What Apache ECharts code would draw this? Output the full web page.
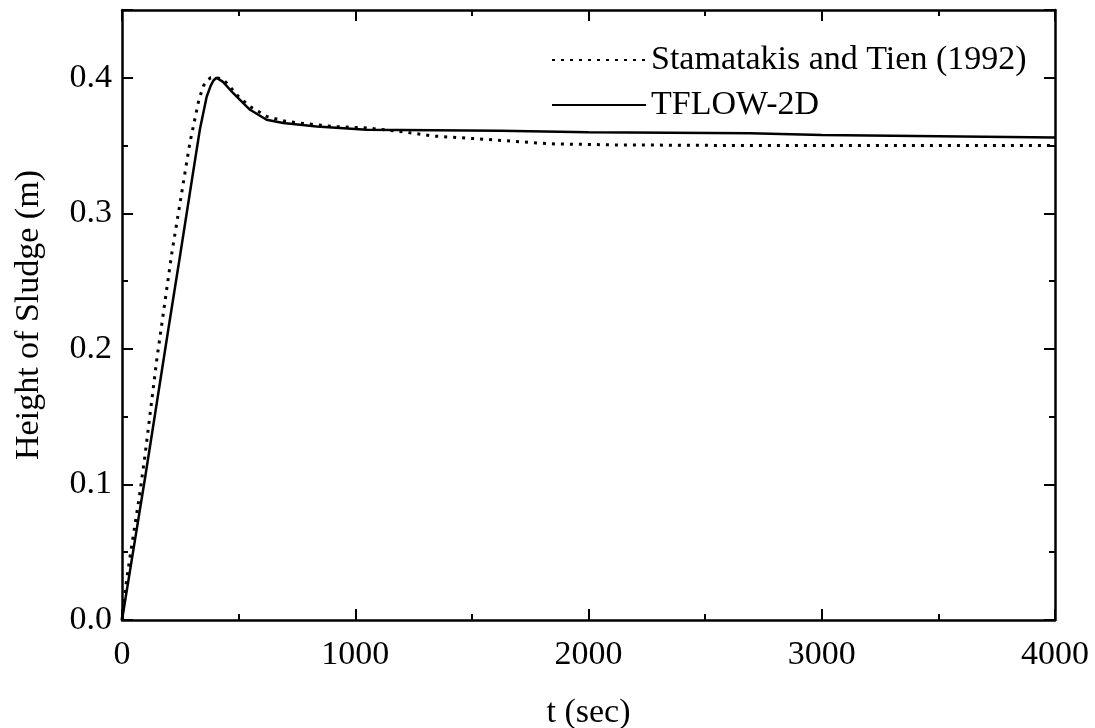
<!DOCTYPE html>
<html>
<head>
<meta charset="utf-8">
<script src="https://cdn.jsdelivr.net/npm/echarts@6/dist/echarts.min.js"></script>
<style>html,body{margin:0;padding:0;background:#fff}#c{width:1095px;height:728px}</style>
</head>
<body>
<div id="c"></div>
<script>
var seriesNames = ["Stamatakis and Tien (1992)", "TFLOW-2D"];
var stamatakisT = [0, 20, 41, 77, 99, 149, 213, 291, 330, 349, 365, 380, 406, 433, 460, 500, 549, 620, 700, 763, 906, 1049, 1192, 1335, 1549, 1835, 2100, 2692, 3300, 4000];
var stamatakisH = [0, 0.030, 0.054, 0.094, 0.122, 0.192, 0.270, 0.352, 0.384, 0.394, 0.398, 0.400, 0.400, 0.399, 0.394, 0.386, 0.3788, 0.3715, 0.368, 0.3666, 0.364, 0.363, 0.3604, 0.357, 0.3547, 0.3513, 0.3505, 0.350, 0.350, 0.350];
var tflowT = [0, 50, 100, 150, 200, 250, 300, 334, 363, 380, 392, 405, 433, 477, 549, 620, 691, 835, 1049, 1620, 2000, 2692, 3000, 4000];
var tflowH = [0, 0.053, 0.106, 0.161, 0.216, 0.270, 0.325, 0.362, 0.386, 0.394, 0.398, 0.400, 0.397, 0.3886, 0.3764, 0.369, 0.3666, 0.364, 0.3616, 0.361, 0.3598, 0.359, 0.3578, 0.356];
var xTicks = [0, 1000, 2000, 3000, 4000];
var yTicks = [0.0, 0.1, 0.2, 0.3, 0.4];

function pairs(xs, ys) { return xs.map(function (x, i) { return [x, ys[i]]; }); }

var FONT = "'Liberation Serif', 'DejaVu Serif', serif";
var FS = 34;
var axisLine = { show: true, onZero: false, lineStyle: { color: '#000', width: 2.5 } };
var tick = { show: true, inside: true, length: 11, lineStyle: { color: '#000', width: 2 } };
var minor = { show: true, splitNumber: 2, length: 6, lineStyle: { color: '#000', width: 2 } };

var chart = echarts.init(document.getElementById('c'), null, { renderer: 'canvas' });
chart.setOption({
  backgroundColor: '#fff',
  animation: false,
  grid: { left: 122, right: 40, top: 10, bottom: 108, containLabel: false, outerBoundsMode: 'none' },
  legend: {
    orient: 'vertical', left: 546, top: 38, itemWidth: 94, itemHeight: 20, itemGap: 11,
    itemStyle: { opacity: 0 },
    textStyle: { fontFamily: FONT, fontSize: FS, color: '#000' },
    data: seriesNames
  },
  xAxis: [{
    type: 'value', min: 0, max: 4000, interval: 1000, position: 'bottom',
    name: 't (sec)', nameLocation: 'middle', nameGap: 76,
    nameTextStyle: { fontFamily: FONT, fontSize: FS, color: '#000' },
    axisLine: axisLine, axisTick: tick, minorTick: minor,
    axisLabel: { fontFamily: FONT, fontSize: FS, color: '#000', margin: 18,
      formatter: function (v) { return xTicks.indexOf(v) >= 0 ? String(v) : ''; } },
    splitLine: { show: false }
  }, {
    type: 'value', min: 0, max: 4000, interval: 1000, position: 'top',
    axisLine: axisLine, axisTick: tick, minorTick: minor,
    axisLabel: { show: false }, splitLine: { show: false }
  }],
  yAxis: [{
    type: 'value', min: 0, max: 0.45, interval: 0.1, position: 'left',
    name: 'Height of Sludge (m)', nameLocation: 'middle', nameGap: 76,
    nameTextStyle: { fontFamily: FONT, fontSize: FS, color: '#000' },
    axisLine: axisLine, axisTick: tick, minorTick: minor,
    axisLabel: { fontFamily: FONT, fontSize: FS, color: '#000', margin: 10,
      formatter: function (v) { var f = v.toFixed(1); return yTicks.map(function (t) { return t.toFixed(1); }).indexOf(f) >= 0 && Math.abs(v - parseFloat(f)) < 1e-6 ? f : ''; } },
    splitLine: { show: false }
  }, {
    type: 'value', min: 0, max: 0.45, interval: 0.1, position: 'right',
    axisLine: axisLine, axisTick: tick, minorTick: minor,
    axisLabel: { show: false }, splitLine: { show: false }
  }],
  series: [{
    name: seriesNames[0], type: 'line', symbol: 'none', smooth: false,
    lineStyle: { color: '#000', width: 3, type: [3, 6] },
    itemStyle: { color: '#000' },
    data: pairs(stamatakisT, stamatakisH)
  }, {
    name: seriesNames[1], type: 'line', symbol: 'none', smooth: false,
    lineStyle: { color: '#000', width: 2.5, type: 'solid' },
    itemStyle: { color: '#000' },
    data: pairs(tflowT, tflowH)
  }]
});
</script>
</body>
</html>
